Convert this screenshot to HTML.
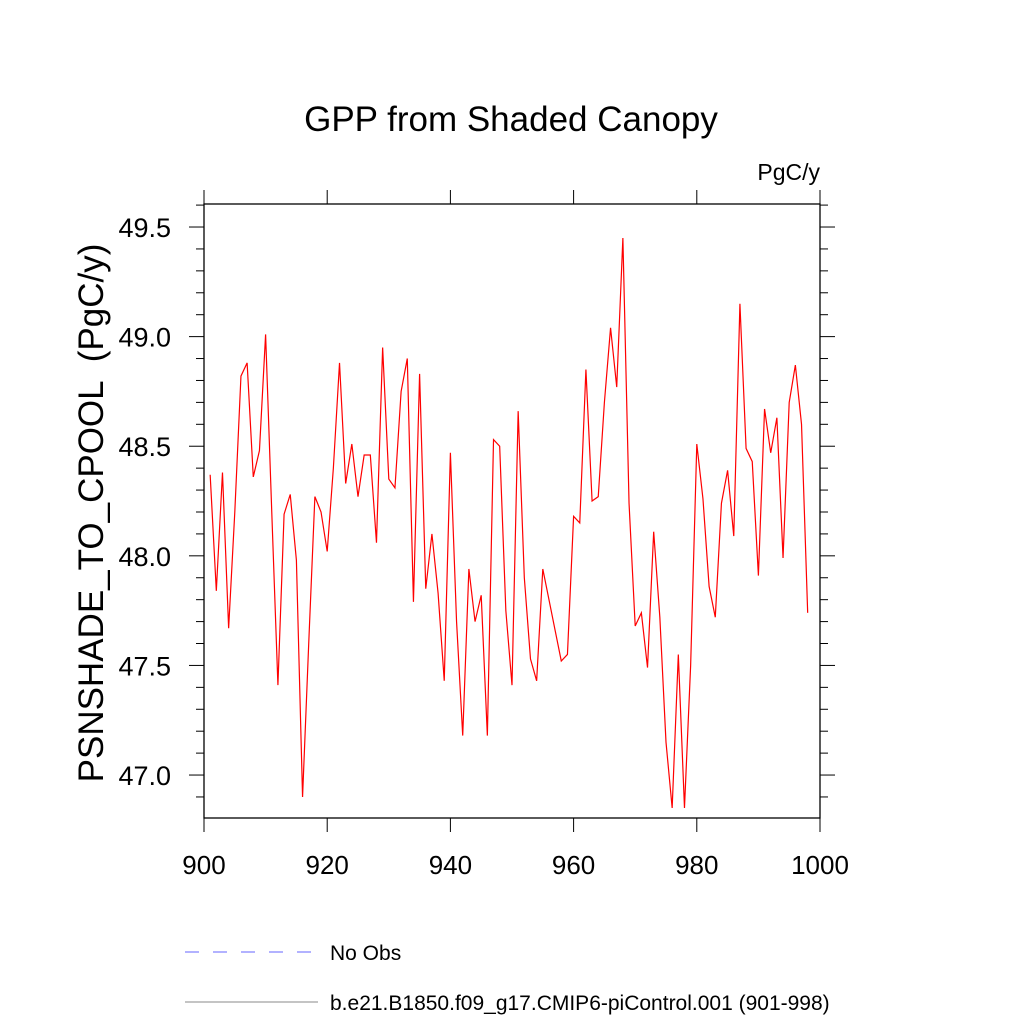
<!DOCTYPE html>
<html><head><meta charset="utf-8"><style>
body{margin:0;background:#fff;}
svg text{font-family:"Liberation Sans",sans-serif;}
</style></head><body>
<svg id="chart" width="1024" height="1024" xmlns="http://www.w3.org/2000/svg">
<rect width="1024" height="1024" fill="#fff"/>
<text x="511" y="131" font-size="35" text-anchor="middle">GPP from Shaded Canopy</text>
<text x="820" y="180" font-size="23" text-anchor="end">PgC/y</text>
<text transform="translate(103,513) rotate(-90)" font-size="35" text-anchor="middle" xml:space="preserve">PSNSHADE_TO_CPOOL  (PgC/y)</text>
<g id="axes"></g>
<path id="series" fill="none" stroke="#ff0000" stroke-width="1.2"/>
<line x1="185" y1="952" x2="318" y2="952" stroke="#6666ff" stroke-width="1" stroke-dasharray="14,14"/>
<text x="330" y="960" font-size="21">No Obs</text>
<line x1="185" y1="1002" x2="318" y2="1002" stroke="#888" stroke-width="1"/>
<text x="330" y="1010" font-size="21">b.e21.B1850.f09_g17.CMIP6-piControl.001 (901-998)</text>
</svg>
<script>
const startYear = 901;
const values = [48.37,47.84,48.38,47.67,48.2,48.82,48.88,48.36,48.48,49.01,
48.2,47.41,48.19,48.28,47.98,46.9,47.6,48.27,48.2,48.02,
48.4,48.88,48.33,48.51,48.27,48.46,48.46,48.06,48.95,48.35,
48.31,48.75,48.9,47.79,48.83,47.85,48.1,47.83,47.43,48.47,
47.7,47.18,47.94,47.7,47.82,47.18,48.53,48.5,47.75,47.41,
48.66,47.9,47.53,47.43,47.94,47.8,47.66,47.52,47.55,48.18,
48.15,48.85,48.25,48.27,48.7,49.04,48.77,49.45,48.24,47.68,
47.74,47.49,48.11,47.72,47.15,46.85,47.55,46.85,47.5,48.51,
48.26,47.86,47.72,48.24,48.39,48.09,49.15,48.49,48.43,47.91,
48.67,48.47,48.63,47.99,48.7,48.87,48.6,47.74];
const xTicks = [900,920,940,960,980,1000];
const yTicks = [47.0,47.5,48.0,48.5,49.0,49.5];
const xDomain = [900,1000];
const yDomain = [46.804,49.605];

const L=204,R=820,T=204,B=818;
const sx=v=>L+(v-xDomain[0])/(xDomain[1]-xDomain[0])*(R-L);
const sy=v=>B-(v-yDomain[0])/(yDomain[1]-yDomain[0])*(B-T);
const NS="http://www.w3.org/2000/svg";
const ax=document.getElementById('axes');
function line(x1,y1,x2,y2,name,w){
  const l=document.createElementNS(NS,'line');
  l.setAttribute('x1',x1);l.setAttribute('y1',y1);l.setAttribute('x2',x2);l.setAttribute('y2',y2);
  l.setAttribute('stroke','#000');l.setAttribute('stroke-width',w||1.3);
  
  
  ax.appendChild(l);
}
function text(x,y,s,anchor,name,fs){
  const t=document.createElementNS(NS,'text');
  t.setAttribute('x',x);t.setAttribute('y',y);t.setAttribute('font-size',fs);t.setAttribute('text-anchor',anchor);
  t.textContent=s;
  
  
  ax.appendChild(t);
}
const fr=document.createElementNS(NS,'rect');
fr.setAttribute('x',L);fr.setAttribute('y',T);fr.setAttribute('width',R-L);fr.setAttribute('height',B-T);
fr.setAttribute('fill','none');fr.setAttribute('stroke','#000');fr.setAttribute('stroke-width','1.3');


ax.appendChild(fr);
xTicks.forEach(v=>{
  const x=sx(v);
  line(x,B,x,B+14,'x-tick',1);line(x,T,x,T-14,'x-tick-top',1);
});
xTicks.forEach(v=>text(sx(v),B+56,String(v),'middle','x-tick-label','26'));
for(let k=Math.ceil(yDomain[0]*10);k<=Math.floor(yDomain[1]*10);k++){
  const v=k/10;const y=sy(v);const maj=(k%5===0);const len=maj?15:8;
  line(L-len,y,L,y,'y-tick',1);line(R,y,R+len,y,'y-tick-right',1);
}
yTicks.forEach(v=>text(L-33,sy(v)+10,v.toFixed(1),'end','y-tick-label','27'));
let d='';
values.forEach((v,i)=>{d+=(i?'L':'M')+sx(startYear+i).toFixed(2)+','+sy(v).toFixed(2);});
document.getElementById('series').setAttribute('d',d);
</script>
</body></html>
